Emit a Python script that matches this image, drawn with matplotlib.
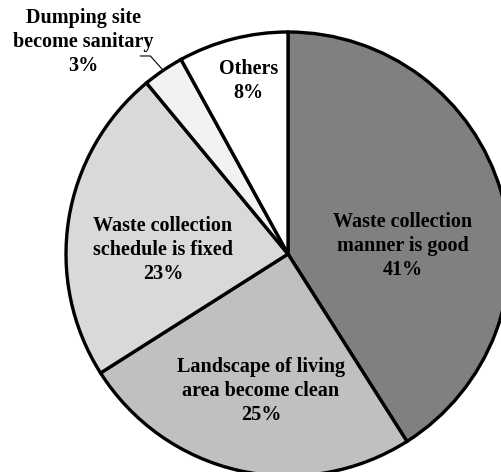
import numpy as np
import matplotlib.pyplot as plt

# pie data, clockwise from 12 o'clock
labels = [
    "Waste collection\nmanner is good",
    "Landscape of living\narea become clean",
    "Waste collection\nschedule is fixed",
    "Dumping site\nbecome sanitary",
    "Others",
]
shares = [41, 25, 23, 3, 8]
colors = ["#808080", "#c0c0c0", "#d9d9d9", "#f2f2f2", "#ffffff"]

# label centres in pie units (radius = 1)
label_pos = [(0.518, 0.036), (-0.122, -0.617), (-0.563, 0.018), (-0.923, 0.955), (-0.176, 0.779)]

fig = plt.figure(figsize=(5.02, 4.72), dpi=100)
ax = fig.add_axes([0, 0, 1, 1])

wedges, _ = ax.pie(
    shares,
    colors=colors,
    startangle=90,
    counterclock=False,
    radius=1.0,
    wedgeprops=dict(edgecolor="black", linewidth=2.4),
)

for lab, val, (x, y) in zip(labels, shares, label_pos):
    ax.text(x, y, f"{lab}\n{val}%", ha="center", va="center",
            family="Liberation Serif", fontweight="bold", fontsize=14.5,
            linespacing=1.24)

# leader line for the small slice
w = wedges[3]
mid = np.deg2rad((w.theta1 + w.theta2) / 2)
tip = (np.cos(mid), np.sin(mid))
ax.plot([-0.665, -0.62, tip[0]], [0.892, 0.892, tip[1]], color="black", lw=0.8)

# pie clipped on right and bottom like the original
ax.set_aspect("auto")
ax.set_xlim(-288 / 222, (502 - 288) / 222)
ax.set_ylim((254 - 472) / 222, 254 / 222)
ax.axis("off")

fig.savefig("out.png", dpi=100)
